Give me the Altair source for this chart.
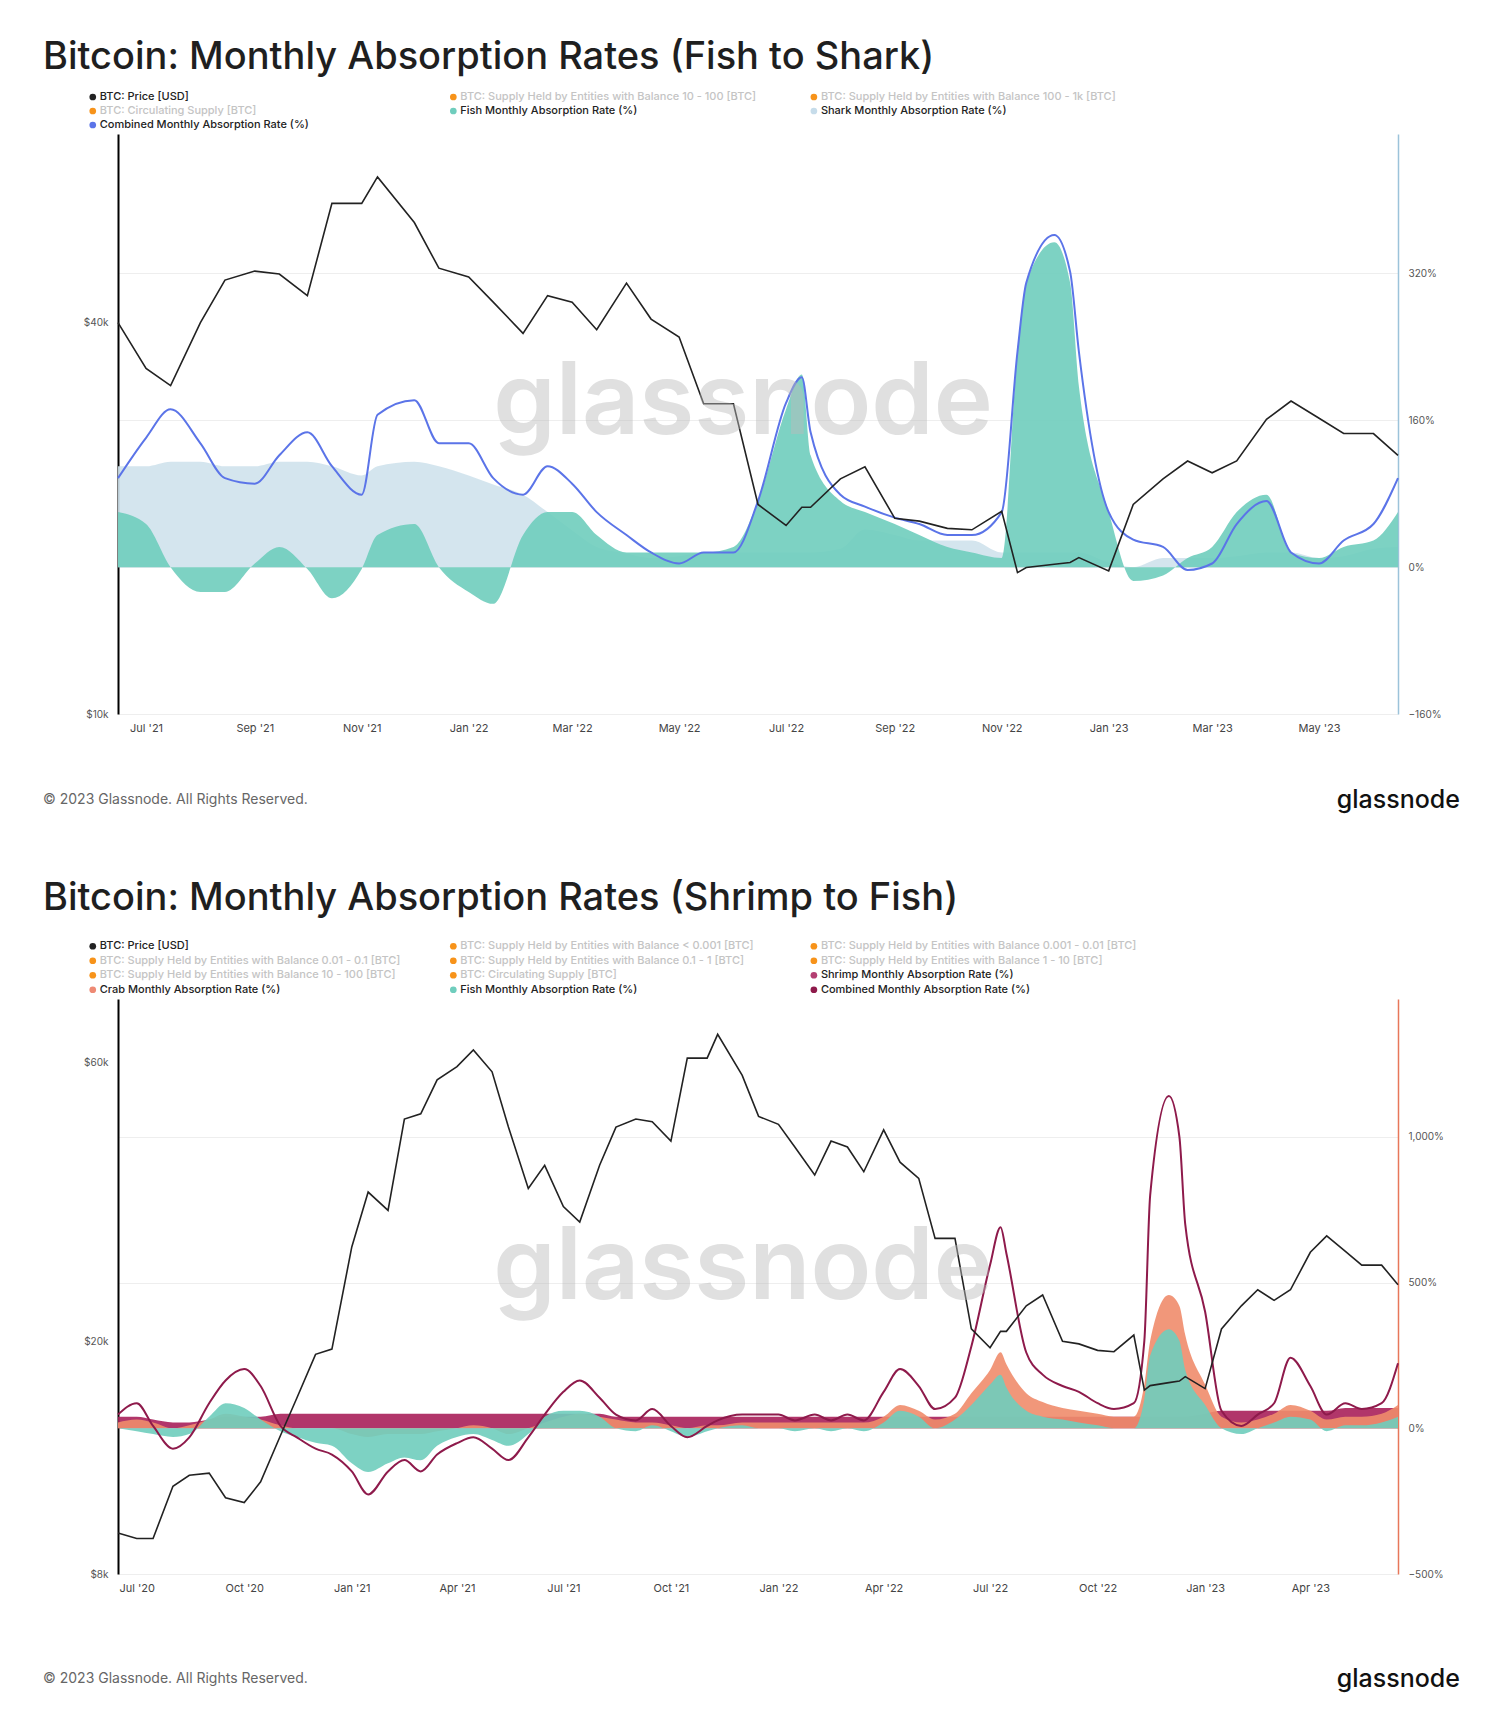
import altair as alt
import pandas as pd

# ---------- panel 1: Fish to Shark ----------
dates1 = ['2021-06-15', '2021-07-01', '2021-07-15', '2021-08-01', '2021-08-15', '2021-09-01', '2021-09-15',
          '2021-10-01', '2021-10-15', '2021-11-01', '2021-11-10', '2021-12-01', '2021-12-15',
          '2022-01-01', '2022-01-15', '2022-02-01', '2022-02-15', '2022-03-01', '2022-03-15', '2022-04-01',
          '2022-04-15', '2022-05-01', '2022-05-15', '2022-06-01', '2022-06-15', '2022-07-01', '2022-07-10',
          '2022-07-15', '2022-08-01', '2022-08-15', '2022-09-01', '2022-09-15', '2022-10-01', '2022-10-15',
          '2022-11-01', '2022-11-10', '2022-11-15', '2022-12-01', '2022-12-10', '2022-12-15',
          '2023-01-01', '2023-01-15', '2023-02-01', '2023-02-15', '2023-03-01', '2023-03-15', '2023-04-01',
          '2023-04-15', '2023-05-01', '2023-05-15', '2023-06-01', '2023-06-15']
price_2022_23 = [47000, 43000, 38500, 44000, 43000, 39000, 46000, 40500, 38000, 30000, 30000, 21000,
                 19500, 20800, 20800, 23000, 24000, 20000, 19800, 19300, 19200, 20500, 16500, 16800,
                 17000, 17100, 17400,
                 16600, 21000, 23000, 24500, 23500, 24500, 28400, 30300, 28500, 27000, 27000, 25000]
price1 = [40000, 34000, 32000, 40000, 46500, 48000, 47500, 44000, 61000, 61000, 67000, 57000, 48500] + price_2022_23
combined1 = [97, 141, 172, 135, 97, 91, 122, 147, 110, 79, 166, 182, 135,
             135, 97, 79, 110, 91, 60, 35, 16, 4, 16, 16, 72, 179, 207, 147, 79, 66, 54, 47, 35, 35,
             60, 235, 310, 362, 322, 235,
             60, 30, 22, -3, 4, 47, 72, 16, 4, 29, 47, 97]
fish1 = [60, 47, 0, -27, -27, 4, 22, -2, -34, -2, 35, 47, 0,
         -27, -40, 35, 60, 60, 35, 16, 16, 16, 16, 22, 72, 172, 210, 122, 72, 60, 47, 35, 22, 16,
         10, 235, 310, 354, 310, 197,
         60, -15, -9, 10, 22, 60, 79, 16, 10, 22, 29, 60]
shark1 = [110, 110, 115, 115, 110, 110, 115, 115, 110, 100, 110, 115, 110,
          100, 90, 79, 60, 40, 22, 15, 10, 12, 16, 16, 16, 16, 16, 16, 20, 41, 35, 29, 29, 29,
          16, 16, 16, 16, 16, 16,
          5, 0, 10, 10, 10, 12, 16, 16, 10, 12, 20, 22]

legend1_labels = ['BTC: Price [USD]', 'BTC: Circulating Supply [BTC]', 'Combined Monthly Absorption Rate (%)',
                  'BTC: Supply Held by Entities with Balance 10 - 100 [BTC]', 'Fish Monthly Absorption Rate (%)',
                  'BTC: Supply Held by Entities with Balance 100 - 1k [BTC]', 'Shark Monthly Absorption Rate (%)']
legend1_col = [0, 0, 0, 1, 1, 2, 2]
legend1_row = [0, 1, 2, 0, 1, 0, 1]
legend1_color = ['#222222', '#f7931a', '#5b74e8', '#f7931a', '#6fcdbd', '#f7931a', '#c6dcea']
legend1_dim = [False, True, False, True, False, True, False]

# ---------- panel 2: Shrimp to Fish ----------
dates2 = ['2020-06-15', '2020-07-01', '2020-07-15', '2020-08-01', '2020-08-15', '2020-09-01', '2020-09-15',
          '2020-10-01', '2020-10-15', '2020-11-01', '2020-11-15', '2020-12-01', '2020-12-15',
          '2021-01-01', '2021-01-15', '2021-02-01', '2021-02-15', '2021-03-01', '2021-03-15', '2021-04-01',
          '2021-04-15', '2021-05-01', '2021-05-15', '2021-06-01'] + dates1
price2 = [9400, 9200, 9200, 11300, 11800, 11900, 10800, 10600, 11500, 13800, 16000, 19000, 19400,
          29000, 36000, 33500, 48000, 49000, 56000, 59000, 63000, 57800, 46500, 36500] + price1
combined2 = [47, 86, 8, -70, -31, 86, 164, 203, 145, 8, -31, -70, -90,
             -148, -227, -148, -109, -148, -90, -51, -31, -70, -109, -31,
             47, 125, 164, 105, 47, 27, 66, 8, -31, 8, 27, 47, 47,
             47, 27, 47, 27, 47, 27, 125, 203, 145, 66, 105, 281, 560, 690, 600, 260, 184, 145, 125, 86,
             66, 86, 300, 800, 1140, 1000, 700,
             400, 60, 8, 47, 86, 242, 145, 47, 86, 66, 86, 223]
crab2 = [20, 30, 20, 0, 10, 30, 50, 40, 30, 10, 0, 0, 0,
         -20, -30, -20, -20, -20, -10, 0, 10, 0, -20, 0,
         20, 40, 50, 40, 30, 20, 20, 10, 0, 10, 10, 20, 20,
         20, 20, 20, 20, 20, 20, 40, 80, 60, 30, 50, 120, 200, 261, 220, 120, 90, 70, 60, 50,
         40, 40, 150, 300, 457, 420, 320,
         150, 40, 20, 30, 50, 80, 60, 30, 40, 40, 50, 80]
fish2 = [0, -10, -20, -30, -20, 40, 86, 70, 30, -10, -30, -50, -60,
         -120, -150, -120, -100, -110, -60, -30, -20, -40, -60, -20,
         40, 60, 60, 40, 0, -10, 10, -10, -30, -10, 0, 10, 0,
         0, -10, 0, -10, 0, -10, 20, 60, 40, 0, 30, 80, 150, 184, 140, 60, 40, 30, 20, 10,
         0, 0, 100, 250, 340, 300, 200,
         80, 0, -20, 0, 20, 40, 30, -10, 10, 10, 20, 40]
shrimp2 = [40, 40, 30, 20, 20, 30, 40, 40, 40, 50, 50, 50, 50,
           50, 50, 50, 50, 50, 50, 50, 50, 50, 50, 50,
           50, 50, 50, 50, 40, 40, 40, 40, 40, 40, 40, 40, 40,
           40, 40, 40, 40, 40, 40, 40, 40, 40, 40, 40, 40, 40, 40, 40, 40, 40, 40, 40, 40,
           40, 40, 40, 40, 40, 40, 40,
           50, 60, 60, 60, 60, 60, 60, 60, 70, 70, 70, 70]

legend2_labels = ['BTC: Price [USD]', 'BTC: Supply Held by Entities with Balance 0.01 - 0.1 [BTC]',
                  'BTC: Supply Held by Entities with Balance 10 - 100 [BTC]', 'Crab Monthly Absorption Rate (%)',
                  'BTC: Supply Held by Entities with Balance < 0.001 [BTC]',
                  'BTC: Supply Held by Entities with Balance 0.1 - 1 [BTC]', 'BTC: Circulating Supply [BTC]',
                  'Fish Monthly Absorption Rate (%)',
                  'BTC: Supply Held by Entities with Balance 0.001 - 0.01 [BTC]',
                  'BTC: Supply Held by Entities with Balance 1 - 10 [BTC]', 'Shrimp Monthly Absorption Rate (%)',
                  'Combined Monthly Absorption Rate (%)']
legend2_col = [0, 0, 0, 0, 1, 1, 1, 1, 2, 2, 2, 2]
legend2_row = [0, 1, 2, 3, 0, 1, 2, 3, 0, 1, 2, 3]
legend2_color = ['#222222', '#f7931a', '#f7931a', '#ee8a74', '#f7931a', '#f7931a', '#f7931a', '#6fcdbd',
                 '#f7931a', '#f7931a', '#b43f72', '#8e1a4b']
legend2_dim = [False, True, True, False, True, True, True, False, True, True, False, False]

FONT = 'Inter'
W = 1280


def legend(labels, cols, rows, colors, dims, height):
    df = pd.DataFrame({'label': labels, 'col': cols, 'row': rows, 'color': colors, 'dim': dims})
    df['tc'] = ['#c4c4c4' if d else '#222222' for d in dims]
    base = alt.Chart(df).encode(
        x=alt.X('col:Q', scale=alt.Scale(domain=[0.07, 3.62]), axis=None),
        y=alt.Y('row:Q', scale=alt.Scale(domain=[-0.5, max(rows) + 0.5], reverse=True), axis=None),
    )
    dots = base.mark_circle(size=45, opacity=1).encode(color=alt.Color('color:N', scale=None))
    txt = base.mark_text(align='left', dx=7, fontSize=11, font=FONT, fontWeight=500).encode(
        text='label:N', color=alt.Color('tc:N', scale=None))
    return (dots + txt).properties(width=W, height=height)


def title(text, height, ypos):
    return alt.Chart(pd.DataFrame({'t': [text]})).mark_text(
        align='left', baseline='middle', fontSize=38, font=FONT, fontWeight=500, color='#1f1f1f'
    ).encode(text='t:N', x=alt.value(-75), y=alt.value(ypos)).properties(width=W, height=height)


def footer(height, ypos):
    df = pd.DataFrame({'t': ['© 2023 Glassnode. All Rights Reserved.']})
    a = alt.Chart(df).mark_text(align='left', fontSize=14, font=FONT, color='#666').encode(
        text='t:N', x=alt.value(-75), y=alt.value(ypos))
    b = alt.Chart(pd.DataFrame({'t': ['glassnode']})).mark_text(
        align='right', fontSize=25, font=FONT, fontWeight=500, color='#111').encode(
        text='t:N', x=alt.value(W + 62), y=alt.value(ypos))
    return (a + b).properties(width=W, height=height)


def watermark(ypos):
    return alt.Chart(pd.DataFrame({'t': ['glassnode']})).mark_text(
        fontSize=100, font=FONT, fontWeight=600, color='#bbbbbb', opacity=0.45
    ).encode(text='t:N', x=alt.value(W / 2 - 15), y=alt.value(ypos))


def panel(dates, price, rates, line_vals, line_color, pmin, pmax, pticks, rmin, rmax, rticks,
          tick_dates, height, rate_axis_color, wm_y):
    df = pd.DataFrame({'date': pd.to_datetime(dates), 'price': price})
    x = alt.X('date:T', title=None, scale=alt.Scale(domain=[dates[0], dates[-1]]),
              axis=alt.Axis(values=[pd.Timestamp(d).isoformat() for d in tick_dates], format="%b '%y",
                            grid=False, domain=False, ticks=False, labelFont=FONT, labelFontSize=11,
                            labelColor='#444', labelPadding=8))
    y_rate = alt.Y('v:Q', scale=alt.Scale(domain=[rmin, rmax]),
                   axis=alt.Axis(orient='right', values=rticks, title=None,
                                 labelExpr="format(datum.value, ',') + '%'", grid=True,
                                 gridColor='#eeeeee', domainColor=rate_axis_color, domainWidth=1.5,
                                 ticks=False, labelFont=FONT, labelFontSize=10, labelColor='#555',
                                 labelPadding=10))
    layers = []
    for values, color, op in rates:
        d = df.copy()
        d['v'] = values
        layers.append(alt.Chart(d).mark_area(color=color, opacity=op, interpolate='monotone').encode(
            x=x, y=y_rate))
    d = df.copy()
    d['v'] = line_vals
    layers.append(alt.Chart(d).mark_line(color=line_color, strokeWidth=2, interpolate='monotone').encode(
        x=x, y=y_rate))
    rate_layer = alt.layer(*layers)
    price_line = alt.Chart(df).mark_line(color='#222222', strokeWidth=1.6).encode(
        x=x, y=alt.Y('price:Q', scale=alt.Scale(type='log', domain=[pmin, pmax]),
                     axis=alt.Axis(orient='left', values=pticks, title=None, grid=False,
                                   labelExpr="'$' + format(datum.value / 1000, ',') + 'k'",
                                   domainColor='#000', domainWidth=2, ticks=False,
                                   labelFont=FONT, labelFontSize=10, labelColor='#555', labelPadding=10)))
    return alt.layer(rate_layer, price_line, watermark(wm_y)).resolve_scale(y='independent').properties(
        width=W, height=height)


top = panel(dates1, price1,
            [(shark1, '#cfe2ec', 0.9), (fish1, '#6fcdbd', 0.9)],
            combined1, '#5b74e8', 10000, 78000, [10000, 40000], -160, 472, [-160, 0, 160, 320],
            ['2021-07-01', '2021-09-01', '2021-11-01', '2022-01-01', '2022-03-01', '2022-05-01',
             '2022-07-01', '2022-09-01', '2022-11-01', '2023-01-01', '2023-03-01', '2023-05-01'],
            580, '#9cc3da', 270)
bottom = panel(dates2, price2,
               [(shrimp2, '#a8205a', 0.9), (crab2, '#f08c6c', 0.9), (fish2, '#6fcdbd', 0.9)],
               combined2, '#8e1a4b', 8000, 77000, [8000, 20000, 60000], -500, 1473,
               [-500, 0, 500, 1000],
               ['2020-07-01', '2020-10-01', '2021-01-01', '2021-04-01', '2021-07-01', '2021-10-01',
                '2022-01-01', '2022-04-01', '2022-07-01', '2022-10-01', '2023-01-01', '2023-04-01'],
               575, '#e8775a', 270)

chart = alt.vconcat(
    title('Bitcoin: Monthly Absorption Rates (Fish to Shark)', 75, 45),
    legend(legend1_labels, legend1_col, legend1_row, legend1_color, legend1_dim, 42),
    top,
    footer(100, 65),
    title('Bitcoin: Monthly Absorption Rates (Shrimp to Fish)', 100, 62),
    legend(legend2_labels, legend2_col, legend2_row, legend2_color, legend2_dim, 58),
    bottom,
    footer(110, 84),
    spacing=2,
).configure_view(stroke=None).properties(padding={'left': 35, 'top': 5, 'right': 10, 'bottom': 5})

chart.save('out.html', embed_options={'renderer': 'svg', 'actions': False})
